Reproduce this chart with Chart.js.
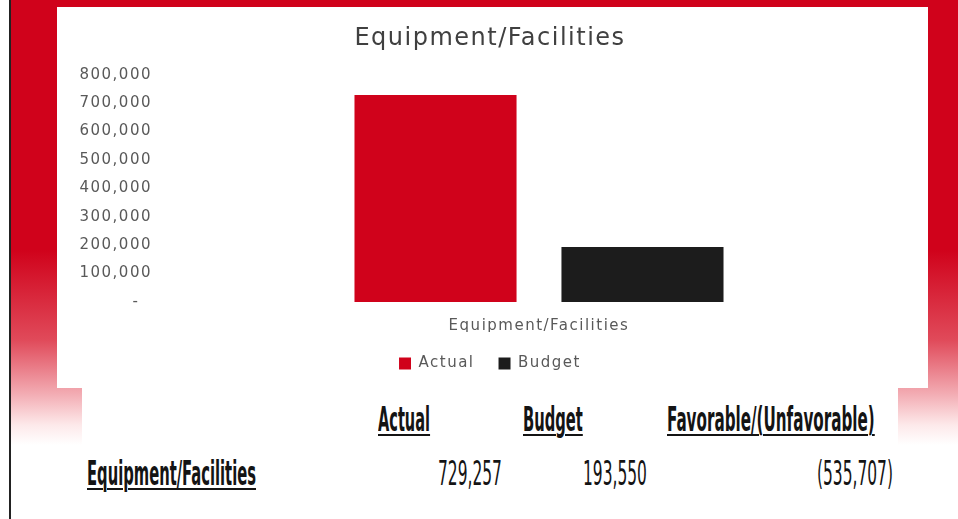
<!DOCTYPE html>
<html>
<head>
<meta charset="utf-8">
<script src="https://cdn.jsdelivr.net/npm/chart.js@4.4.1/dist/chart.umd.min.js"></script>
<style>
  html, body { margin: 0; padding: 0; background: #fff; }
  body { width: 958px; height: 519px; position: relative; overflow: hidden; }
  .frame { position: absolute; left: 9px; top: 0; width: 2px; height: 519px; background: #222; }
  .slide {
    position: absolute; left: 11px; top: 0; width: 947px; height: 519px;
    background: linear-gradient(to bottom, #d0021b 0px, #d0021b 250px, #e04a5a 340px, #f3aeb5 395px, #fde9ea 425px, #fff 445px);
  }
  .panel { position: absolute; left: 57px; top: 7px; width: 871px; height: 381px; background: #fff; }
  .tablebox { position: absolute; left: 82px; top: 388px; width: 816px; height: 131px; background: #fff; }
  .cell {
    position: absolute; white-space: nowrap; line-height: 1; font-size: 33px; color: #141414;
    font-family: "Liberation Sans Narrow", "DejaVu Sans Condensed", "Liberation Sans", sans-serif;
    transform-origin: 0 0;
  }
  .head { font-weight: bold; text-decoration: underline; text-decoration-thickness: 2px; text-underline-offset: 3px; }
</style>
</head>
<body>
<div class="frame"></div>
<div class="slide"></div>
<div class="panel"><canvas id="equipChart" width="871" height="381"></canvas></div>
<div class="tablebox"></div>
<div id="table"></div>

<script>
// Equipment/Facilities: actual vs budget
const categories = ["Equipment/Facilities"];
const seriesNames = ["Actual", "Budget"];
const actualValues = [729257];
const budgetValues = [193550];
const varianceLabel = "Favorable/(Unfavorable)";
const yTicks = [0, 100000, 200000, 300000, 400000, 500000, 600000, 700000, 800000];

const fmt = v => v < 0 ? "(" + Math.abs(v).toLocaleString("en-US") + ")" : v.toLocaleString("en-US");

// wide tracking on all chart text
const tracking = {
    id: "tracking",
    beforeUpdate(chart) { chart.ctx.letterSpacing = "1.5px"; },
    beforeDraw(chart) { chart.ctx.letterSpacing = "1.5px"; }
};

Chart.defaults.font.family = "'DejaVu Sans', sans-serif";
Chart.defaults.font.size = 15;
Chart.defaults.color = "#595959";

new Chart(document.getElementById("equipChart"), {
    type: "bar",
    data: {
        labels: categories,
        datasets: [
            { label: seriesNames[0], data: actualValues, backgroundColor: "#d0021b" },
            { label: seriesNames[1], data: budgetValues, backgroundColor: "#1c1c1c" }
        ]
    },
    options: {
        responsive: false,
        animation: false,
        categoryPercentage: 0.539,
        barPercentage: 0.783,
        layout: { padding: { left: 0, right: 5, top: 0, bottom: 7 } },
        plugins: {
            title: {
                display: true,
                text: categories[0],
                color: "#404040",
                font: { size: 24, weight: "normal" },
                padding: { top: 17, bottom: 22 }
            },
            legend: {
                position: "bottom",
                labels: { boxWidth: 12, boxHeight: 12, padding: 24 }
            },
            tooltip: { enabled: false }
        },
        scales: {
            x: {
                grid: { display: false, drawTicks: false },
                border: { display: false },
                afterFit(scale) { scale.height = 30; },
                ticks: { padding: 15 }
            },
            y: {
                min: yTicks[0],
                max: yTicks[yTicks.length - 1],
                grid: { display: false, drawTicks: false },
                border: { display: false },
                afterFit(scale) { scale.width = 98; },
                afterBuildTicks(scale) { scale.ticks = yTicks.map(v => ({ value: v })); },
                ticks: {
                    padding: 3,
                    callback: v => v === 0 ? "-  " : fmt(v)
                }
            }
        }
    },
    plugins: [tracking]
});

// summary table under the chart
const cells = [
    { text: seriesNames[0], head: true, left: 378, top: 403, width: 52 },
    { text: seriesNames[1], head: true, left: 523, top: 403, width: 60 },
    { text: varianceLabel, head: true, left: 667, top: 403, width: 208 },
    { text: categories[0], head: true, left: 87, top: 457, width: 169 },
    { text: fmt(actualValues[0]), right: 502, top: 457, width: 64 },
    { text: fmt(budgetValues[0]), right: 647, top: 457, width: 64 },
    { text: fmt(budgetValues[0] - actualValues[0]), right: 893, top: 457, width: 76 }
];

const table = document.getElementById("table");
const els = cells.map(c => {
    const el = document.createElement("span");
    el.className = "cell" + (c.head ? " head" : "");
    el.textContent = c.text;
    el.style.top = c.top + "px";
    table.appendChild(el);
    return el;
});

function fitCells() {
    cells.forEach((c, i) => {
        const el = els[i];
        const w = el.offsetWidth;
        el.style.transform = "scaleX(" + (c.width / w) + ")";
        el.style.left = (c.left !== undefined ? c.left : c.right - c.width) + "px";
    });
}
fitCells();
document.fonts.ready.then(fitCells);
</script>
</body>
</html>
